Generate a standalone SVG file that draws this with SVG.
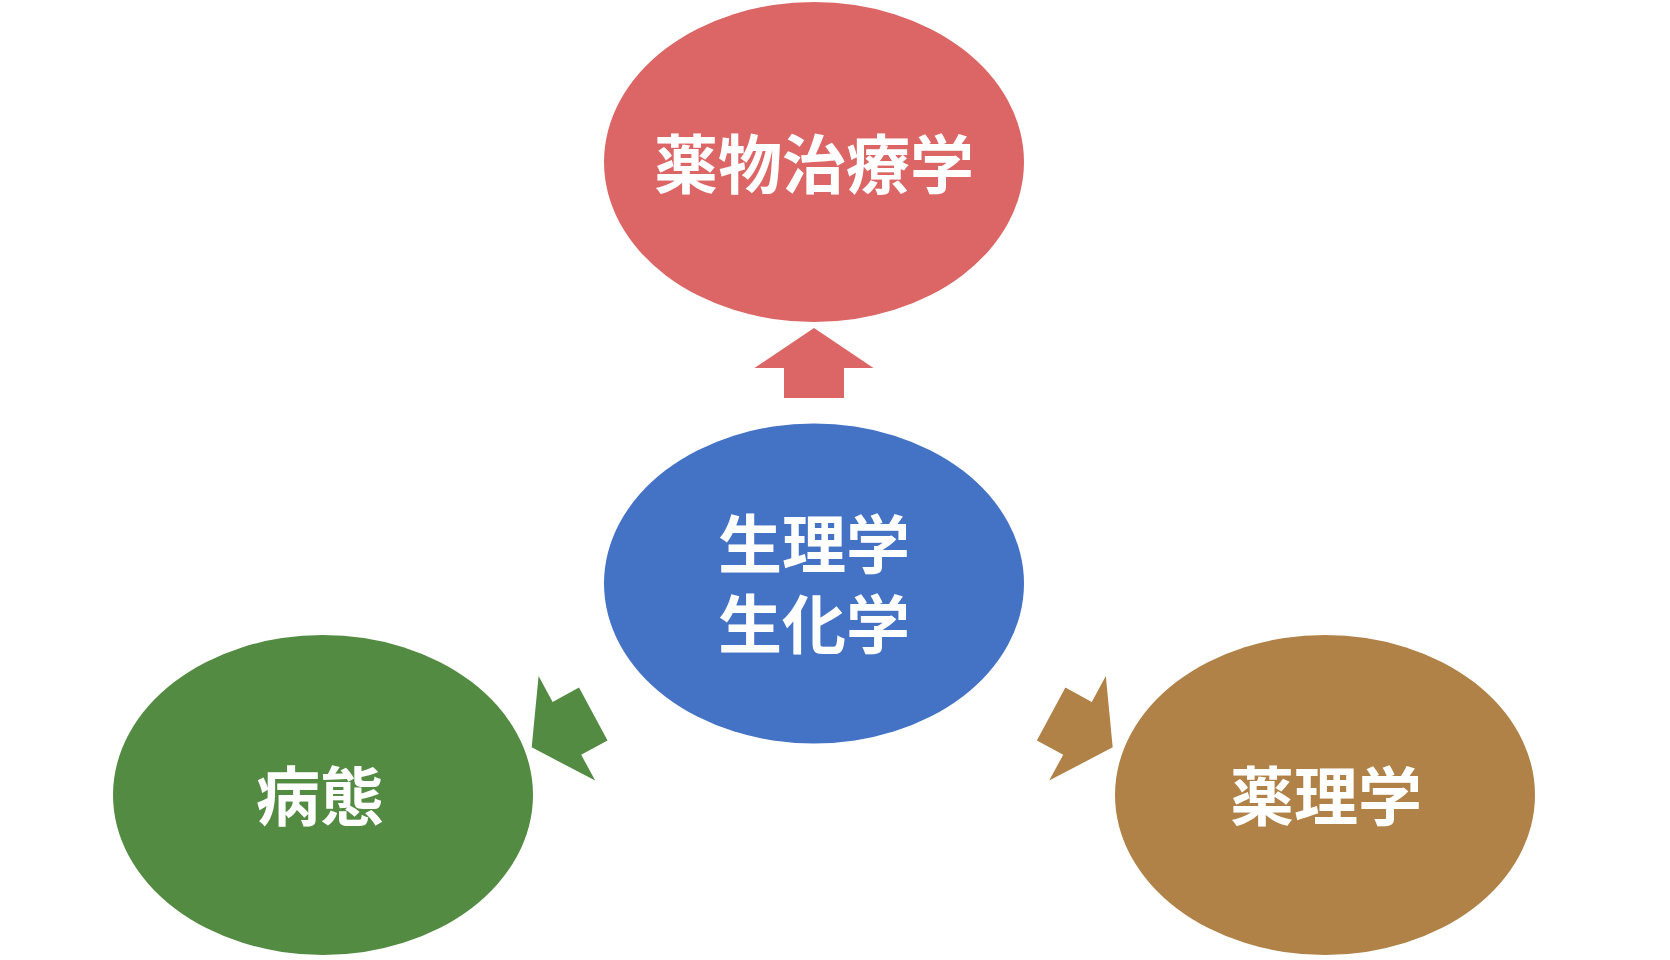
<svg xmlns="http://www.w3.org/2000/svg" width="1670" height="960" viewBox="0 0 1670 960">
  <defs>
    <style>
      .lbl { font-family: "Noto Sans CJK JP", "Noto Sans CJK SC", sans-serif; font-weight: 700; font-size: 64px; fill: #ffffff; text-anchor: middle; }
    </style>
    <polygon id="arrow" points="0,0 59.5,40 30,40 30,70 -30,70 -30,40 -59.5,40"/>
  </defs>
  <rect width="1670" height="960" fill="#ffffff"/>

  <g id="connectors">
    <use href="#arrow" fill="#DC6666" transform="translate(814,328)"/>
    <use href="#arrow" fill="#538B43" transform="translate(531.7,747.3) rotate(-118.4)"/>
    <use href="#arrow" fill="#B08247" transform="translate(1112.7,747.3) rotate(118.4)"/>
  </g>

  <g id="node-yakubutsu">
    <ellipse cx="814" cy="162" rx="210" ry="160" fill="#DC6666"/>
    <text class="lbl" x="814" y="188">薬物治療学</text>
  </g>

  <g id="node-seiri">
    <ellipse cx="814" cy="583.5" rx="210" ry="160" fill="#4472C4"/>
    <text class="lbl" x="814" y="568">生理学<tspan x="814" dy="80">生化学</tspan></text>
  </g>

  <g id="node-byotai">
    <ellipse cx="323" cy="795" rx="210" ry="160" fill="#538B43"/>
    <text class="lbl" x="320" y="820">病態</text>
  </g>

  <g id="node-yakuri">
    <ellipse cx="1325" cy="795" rx="210" ry="160" fill="#B08247"/>
    <text class="lbl" x="1326" y="820">薬理学</text>
  </g>
</svg>
